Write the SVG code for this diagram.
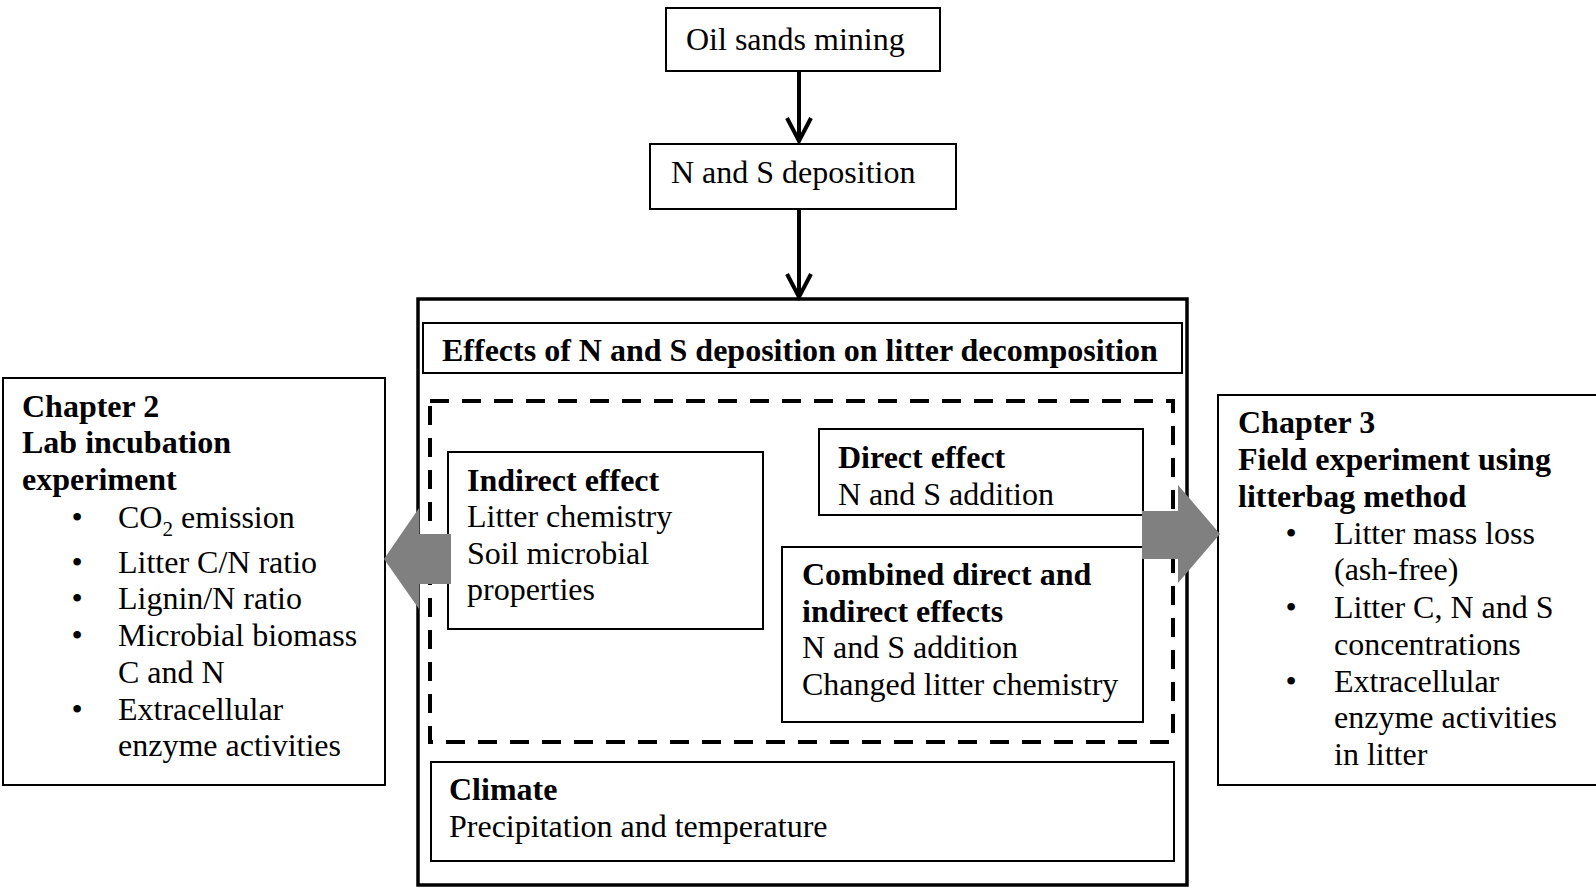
<svg xmlns="http://www.w3.org/2000/svg" width="1596" height="888" viewBox="0 0 1596 888">
<defs>
<style>
text{font-family:"Liberation Serif","Times New Roman",serif;font-size:32px;fill:#000}
.b{font-weight:bold}
.box{fill:#fff;stroke:#000;stroke-width:2}
.outer{fill:#fff;stroke:#000;stroke-width:3.5}
.dash{fill:none;stroke:#000;stroke-width:4;stroke-dasharray:19 13}
.conn{stroke:#000;stroke-width:4;fill:none}
.head{stroke:#000;stroke-width:4;fill:none;stroke-linecap:butt}
.big{fill:#808080;stroke:none}
</style>
</defs>
<rect width="1596" height="888" fill="#fff"/>

<g id="outer">
<rect class="outer" x="418" y="299" width="769" height="586"/>
</g>

<g id="header">
<rect class="box" x="423" y="323" width="759" height="50"/>
<text class="b" x="442" y="361">Effects of N and S deposition on litter decomposition</text>
</g>

<g id="dashed">
<rect class="dash" x="430" y="401" width="743" height="341"/>
</g>

<g id="oil">
<rect class="box" x="666" y="8" width="274" height="63"/>
<text x="686" y="50">Oil sands mining</text>
</g>

<g id="deposition">
<rect class="box" x="650" y="144" width="306" height="65"/>
<text x="671" y="183">N and S deposition</text>
</g>

<g id="indirect">
<rect class="box" x="448" y="452" width="315" height="177"/>
<text x="467" y="491"><tspan class="b">Indirect effect</tspan></text>
<text x="467" y="527">Litter chemistry</text>
<text x="467" y="564">Soil microbial</text>
<text x="467" y="600">properties</text>
</g>

<g id="direct">
<rect class="box" x="819" y="429" width="324" height="86"/>
<text class="b" x="838" y="468">Direct effect</text>
<text x="838" y="505">N and S addition</text>
</g>

<g id="combined">
<rect class="box" x="782" y="547" width="361" height="175"/>
<text class="b" x="802" y="585">Combined direct and</text>
<text class="b" x="802" y="622">indirect effects</text>
<text x="802" y="658">N and S addition</text>
<text x="802" y="695">Changed litter chemistry</text>
</g>

<g id="climate">
<rect class="box" x="431" y="762" width="743" height="99"/>
<text class="b" x="449" y="800">Climate</text>
<text x="449" y="837">Precipitation and temperature</text>
</g>

<g id="chapter2">
<rect class="box" x="3" y="378" width="382" height="407"/>
<text class="b" x="22" y="417">Chapter 2</text>
<text class="b" x="22" y="453">Lab incubation</text>
<text class="b" x="22" y="490">experiment</text>
<text x="77" y="528" text-anchor="middle">•</text>
<text x="118" y="528">CO<tspan font-size="21" dy="8">2</tspan><tspan dy="-8"> emission</tspan></text>
<text x="77" y="573" text-anchor="middle">•</text>
<text x="118" y="573">Litter C/N ratio</text>
<text x="77" y="609" text-anchor="middle">•</text>
<text x="118" y="609">Lignin/N ratio</text>
<text x="77" y="646" text-anchor="middle">•</text>
<text x="118" y="646">Microbial biomass</text>
<text x="118" y="683">C and N</text>
<text x="77" y="720" text-anchor="middle">•</text>
<text x="118" y="720">Extracellular</text>
<text x="118" y="756">enzyme activities</text>
</g>

<g id="chapter3">
<rect class="box" x="1218" y="395" width="384" height="390"/>
<text class="b" x="1238" y="433">Chapter 3</text>
<text class="b" x="1238" y="470">Field experiment using</text>
<text class="b" x="1238" y="507">litterbag method</text>
<text x="1291" y="544" text-anchor="middle">•</text>
<text x="1334" y="544">Litter mass loss</text>
<text x="1334" y="580">(ash-free)</text>
<text x="1291" y="618" text-anchor="middle">•</text>
<text x="1334" y="618">Litter C, N and S</text>
<text x="1334" y="655">concentrations</text>
<text x="1291" y="692" text-anchor="middle">•</text>
<text x="1334" y="692">Extracellular</text>
<text x="1334" y="728">enzyme activities</text>
<text x="1334" y="765">in litter</text>
</g>

<g id="connectors">
<line class="conn" x1="799" y1="71" x2="799" y2="140"/>
<polyline class="head" points="787,118 799,141 811,118"/>
<line class="conn" x1="799" y1="209" x2="799" y2="296"/>
<polyline class="head" points="787,274 799,297 811,274"/>
<polygon class="big" points="384,559 419,508 419,534 451,534 451,584 419,584 419,609"/>
<polygon class="big" points="1142,511 1178,511 1178,485 1220,534 1178,583 1178,559 1142,559"/>
</g>
</svg>
